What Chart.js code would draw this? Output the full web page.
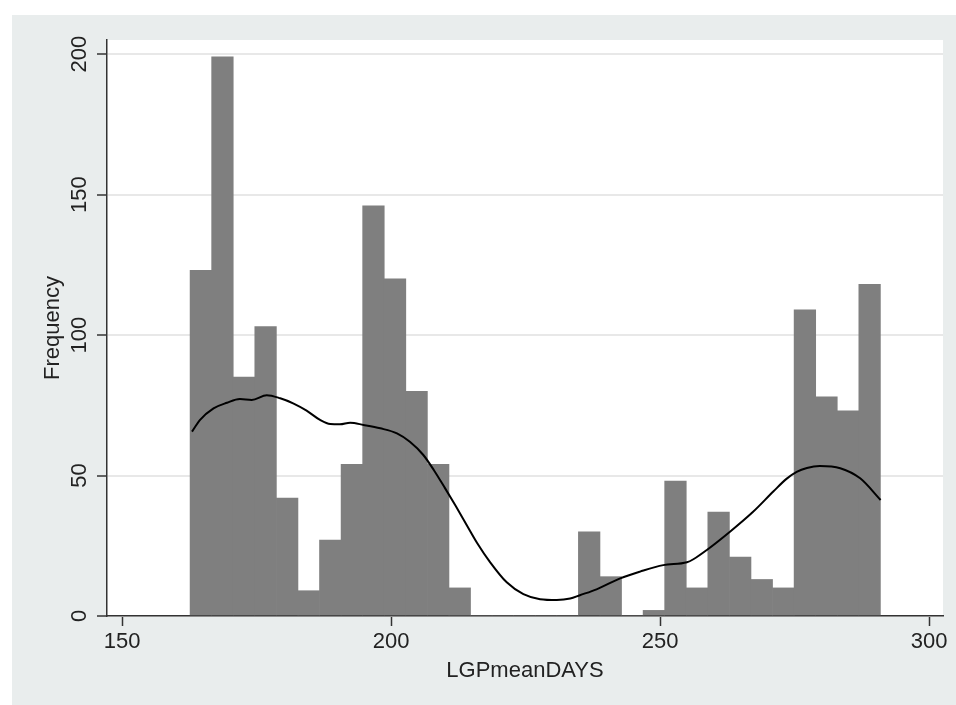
<!DOCTYPE html>
<html>
<head>
<meta charset="utf-8">
<script src="https://cdn.jsdelivr.net/npm/chart.js@4/dist/chart.umd.min.js"></script>
<style>
  html, body { margin: 0; padding: 0; background: #fff; }
  canvas { display: block; }
</style>
</head>
<body>
<canvas id="histChart" width="956" height="705"></canvas>
<script>
// histogram bins (centres, width ~4.01 days) and counts
const binCenters = [164.65, 168.66, 172.67, 176.68, 180.69, 184.70, 188.71, 192.72,
  196.73, 200.74, 204.75, 208.76, 212.77, 216.78, 220.79, 224.80, 228.81, 232.82,
  236.83, 240.84, 244.85, 248.86, 252.87, 256.88, 260.89, 264.90, 268.91, 272.92,
  276.93, 280.94, 284.95, 288.96];
const counts = [123, 199, 85, 103, 42, 9, 27, 54, 146, 120, 80, 54, 10, 0, 0, 0,
  0, 0, 30, 14, 0, 2, 48, 10, 37, 21, 13, 10, 109, 78, 73, 118];

// kernel density overlay, scaled to frequency
const densX = [163.0, 164.5, 167.0, 169.5, 171.9, 174.1, 176.9, 179.4, 181.8, 184.3,
  186.8, 188.7, 190.5, 192.4, 194.9, 198.0, 201.1, 203.5, 206.0, 208.0, 210.0,
  212.0, 214.0, 216.0, 218.4, 221.5, 224.6, 227.7, 230.8, 233.3, 235.1, 238.2,
  242.6, 246.3, 250.6, 255.0, 256.2, 258.7, 263.0, 267.3, 271.1, 273.5, 275.4,
  277.3, 279.7, 283.5, 287.2, 291.0];
const densY = [65.6, 69.8, 73.9, 75.9, 77.2, 76.9, 78.6, 77.5, 75.7, 73.1,
  69.8, 68.3, 68.2, 68.8, 68.0, 66.8, 65.0, 62.0, 57.3, 51.8, 45.6,
  39.2, 32.6, 26.0, 19.2, 12.0, 7.8, 6.0, 5.7, 6.2, 7.4, 9.5,
  13.4, 15.8, 18.1, 19.1, 20.2, 23.5, 30.0, 37.1, 44.4, 48.8, 51.3,
  52.7, 53.4, 52.6, 49.0, 41.3];

const xTicks = [150, 200, 250, 300];
const yTicks = [0, 50, 100, 150, 200];

const FONT = '"Liberation Sans", Arial, Helvetica, sans-serif';
const INK = '#222';

const backdrop = {
  id: 'backdrop',
  beforeDraw(chart) {
    const { ctx, chartArea: a } = chart;
    ctx.save();
    ctx.fillStyle = '#ffffff';
    ctx.fillRect(0, 0, chart.width, chart.height);
    ctx.fillStyle = '#e9eded';
    ctx.fillRect(12, 15, chart.width - 12, chart.height - 15);
    ctx.fillStyle = '#ffffff';
    ctx.fillRect(a.left, a.top, a.right - a.left, a.bottom - a.top);
    ctx.restore();
  }
};

const ctx = document.getElementById('histChart').getContext('2d');
const histChart = new Chart(ctx, {
  data: {
    datasets: [{
      type: 'line',
      order: 0,
      data: densX.map((x, i) => ({ x: x, y: densY[i] })),
      borderColor: '#000',
      borderWidth: 2,
      pointRadius: 0,
      cubicInterpolationMode: 'monotone',
      fill: false
    }, {
      type: 'bar',
      order: 1,
      data: binCenters.map((x, i) => ({ x: x, y: counts[i] })),
      backgroundColor: '#7f7f7f',
      borderWidth: 0,
      barPercentage: 1,
      categoryPercentage: 1
    }]
  },
  options: {
    responsive: false,
    animation: false,
    devicePixelRatio: 1,
    layout: { padding: { top: 40, right: 13, left: 0, bottom: 0 } },
    plugins: { legend: { display: false }, tooltip: { enabled: false } },
    scales: {
      x: {
        type: 'linear',
        offset: false,
        min: 147.2,
        max: 302.6,
        afterBuildTicks: s => { s.ticks = xTicks.map(v => ({ value: v })); },
        afterFit: s => { s.height = 89; },
        grid: { offset: false, drawOnChartArea: false, tickLength: 10, tickColor: '#333', tickWidth: 1.5 },
        border: { display: true, color: '#333', width: 1.5 },
        ticks: { color: INK, font: { family: FONT, size: 22 }, padding: 3, maxRotation: 0 },
        title: { display: true, text: 'LGPmeanDAYS', color: INK,
          font: { family: FONT, size: 22 }, padding: { top: 0, bottom: 21 } }
      },
      y: {
        type: 'linear',
        min: 0,
        max: 205,
        afterBuildTicks: s => { s.ticks = yTicks.map(v => ({ value: v })); },
        afterFit: s => { s.width = 107; },
        grid: { color: '#e8e8e8', lineWidth: 2, tickLength: 10, tickColor: '#333', tickWidth: 1.5 },
        border: { display: true, color: '#333', width: 1.5 },
        ticks: { color: INK, font: { family: FONT, size: 22 }, padding: -1,
          minRotation: 90, maxRotation: 90, crossAlign: 'center' },
        title: { display: true, text: 'Frequency', color: INK,
          font: { family: FONT, size: 22 }, padding: { top: 40, bottom: 0 } }
      }
    }
  },
  plugins: [backdrop]
});
</script>
</body>
</html>
